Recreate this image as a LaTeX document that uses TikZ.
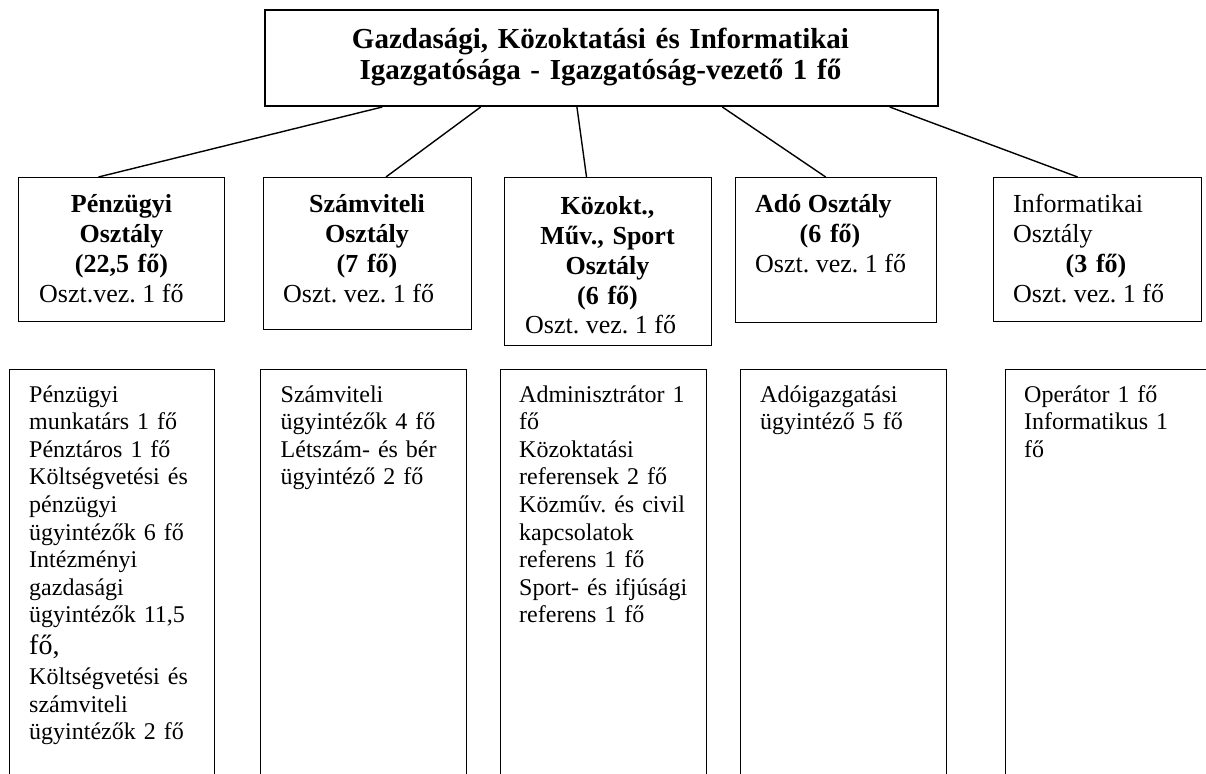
\documentclass[tikz,border=0pt]{standalone}
\usepackage{fontspec}
\setmainfont{Liberation Serif}
\usetikzlibrary{calc}
\lineskiplimit=-1000pt
\frenchspacing
\begin{document}
\begin{tikzpicture}[x=1pt,y=-1pt,
  box/.style={draw, rectangle, line width=1.4pt, inner sep=0pt, anchor=north west},
  topbox/.style={box, line width=2pt},
  link/.style={line width=1.4pt},
  hd/.style={inner sep=0pt, anchor=base, align=center, text width=200pt,
    font=\fontsize{26}{30}\selectfont\bfseries},
  hdl/.style={inner sep=0pt, anchor=base west, font=\fontsize{26}{30}\selectfont\bfseries},
  rg/.style={inner sep=0pt, anchor=base west, font=\fontsize{26}{30}\selectfont},
  lst/.style={inner sep=0pt, anchor=base west, align=left, text width=185pt,
    font=\fontsize{24}{27.6}\selectfont}]
\useasboundingbox (0,0) rectangle (1206,773);
\clip (0,0) rectangle (1206,773);

% top box
\node[topbox, minimum width=673pt, minimum height=96pt] (top) at (264,9) {};
\node[inner sep=0pt, anchor=base, align=center, text width=660pt,
  font=\fontsize{29}{31}\selectfont\bfseries] (toptext) at (600.5,49)
  {Gazdasági, Közoktatási és Informatikai\\Igazgatósága - Igazgatóság-vezető 1 fő};

% department boxes
\node[box, minimum width=206pt, minimum height=144pt] (d1) at (18,177) {};
\node[box, minimum width=208pt, minimum height=152pt] (d2) at (263,177) {};
\node[box, minimum width=207pt, minimum height=168pt] (d3) at (504,177) {};
\node[box, minimum width=201pt, minimum height=145pt] (d4) at (735,177) {};
\node[box, minimum width=208pt, minimum height=144pt] (d5) at (993,177) {};

\node[hd] (d1a) at (121.5,212.5) {Pénzügyi\\Osztály\\(22,5 fő)};
\node[rg] (d1b) at (39,302.5) {Oszt.vez. 1 fő};

\node[hd] (d2a) at (367,212.5) {Számviteli\\Osztály\\(7 fő)};
\node[rg] (d2b) at (283,302.5) {Oszt. vez. 1 fő};

\node[hd] (d3a) at (607.5,214) {Közokt.,\\Műv., Sport\\Osztály\\(6 fő)};
\node[rg] (d3b) at (525,333) {Oszt. vez. 1 fő};

\node[hdl] (d4a) at (755,212.5) {Adó Osztály};
\node[hd] (d4b) at (830,242.5) {(6 fő)};
\node[rg] (d4c) at (755,272.5) {Oszt. vez. 1 fő};

\node[rg] (d5a) at (1013,212.5) {Informatikai};
\node[rg] (d5b) at (1013,242.5) {Osztály};
\node[hd] (d5c) at (1096,272.5) {(3 fő)};
\node[rg] (d5d) at (1013,302.5) {Oszt. vez. 1 fő};

% connectors
\draw[link] ($(top.south west)!0.1753!(top.south east)$) -- ($(d1.north west)!0.388!(d1.north east)$);
\draw[link] ($(top.south west)!0.321!(top.south east)$) -- ($(d2.north west)!0.587!(d2.north east)$);
\draw[link] ($(top.south west)!0.4636!(top.south east)$) -- ($(d3.north west)!0.396!(d3.north east)$);
\draw[link] ($(top.south west)!0.679!(top.south east)$) -- ($(d4.north west)!0.448!(d4.north east)$);
\draw[link] ($(top.south west)!0.927!(top.south east)$) -- ($(d5.north west)!0.404!(d5.north east)$);

% lower boxes (open at the bottom of the picture)
\node[box, minimum width=205pt, minimum height=500pt] (l1) at (9,368.5) {};
\node[box, minimum width=206pt, minimum height=500pt] (l2) at (260,368.5) {};
\node[box, minimum width=206pt, minimum height=500pt] (l3) at (500,368.5) {};
\node[box, minimum width=206pt, minimum height=500pt] (l4) at (740,368.5) {};
\node[box, minimum width=300pt, minimum height=500pt] (l5) at (1005,368.5) {};

\node[lst] (l1t) at (29,402) {Pénzügyi\\munkatárs 1 fő\\Pénztáros 1 fő\\Költségvetési és\\pénzügyi\\ügyintézők 6 fő\\Intézményi\\gazdasági\\ügyintézők 11,5\\[4pt]{\fontsize{28}{31}\selectfont fő,}\\[2.4pt]Költségvetési és\\számviteli\\ügyintézők 2 fő};
\node[lst] (l2t) at (280.5,402) {Számviteli\\ügyintézők 4 fő\\Létszám- és bér\\ügyintéző 2 fő};
\node[lst] (l3t) at (519,402) {Adminisztrátor 1\\fő\\Közoktatási\\referensek 2 fő\\Közműv. és civil\\kapcsolatok\\referens 1 fő\\Sport- és ifjúsági\\referens 1 fő};
\node[lst] (l4t) at (760,402) {Adóigazgatási\\ügyintéző 5 fő};
\node[lst] (l5t) at (1024,402) {Operátor 1 fő\\Informatikus 1\\fő};
\end{tikzpicture}
\end{document}
